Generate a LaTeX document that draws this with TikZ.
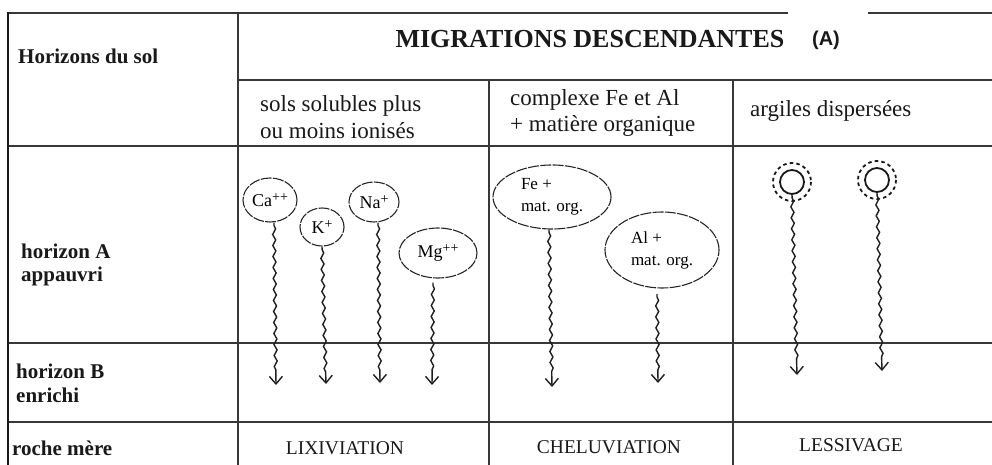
\documentclass[tikz,border=0pt]{standalone}
\usepackage{fontspec}
\setmainfont{Liberation Serif}
\newfontfamily\sansA{Liberation Sans}
\usetikzlibrary{shapes.geometric,decorations.pathmorphing,arrows.meta}
\newcommand{\chg}[1]{\raisebox{0.55ex}{\fontsize{14}{14}\selectfont #1}}
\begin{document}
\begin{tikzpicture}[x=1pt,y=-1pt,
  gridline/.style={draw=black!78, line width=1.8pt},
  border/.style={draw=black!90, line width=2.8pt},
  lbl/.style={inner sep=0pt, anchor=base west, text=black!90},
  lblc/.style={inner sep=0pt, anchor=base, text=black!90},
  hfont/.style={font=\fontsize{21}{24}\selectfont\bfseries},
  subfont/.style={font=\fontsize{23}{27}\selectfont},
  procfont/.style={font=\fontsize{19.5}{22}\selectfont},
  ion/.style={ellipse, draw=black!85, line width=1.1pt, dash pattern=on 11pt off 1.3pt,
    inner sep=0pt, font=\fontsize{18}{22}\selectfont, align=left},
  clay/.style={circle, draw=black!90, line width=1.8pt, minimum size=24pt, inner sep=0pt},
  clayring/.style={draw=black!90, line width=1.8pt, dash pattern=on 3.5pt off 3.2pt},
  wavy/.style={draw=black!88, line width=1.4pt, decorate,
    decoration={snake, segment length=11pt, amplitude=1.5pt, post length=11pt, pre length=3pt},
    -{Straight Barb[length=7.5pt,width=13pt,line width=1.4pt]}}
]
\fill[white] (0,0) rectangle (992,465);
\useasboundingbox (0,0) rectangle (992,465);

% table grid
\draw[gridline] (8,13) -- (788,13);
\draw[gridline] (868,13) -- (992,13);
\draw[gridline] (238,13) -- (238,465);
\draw[gridline] (238,80) -- (992,80);
\draw[gridline] (489,80) -- (489,465);
\draw[gridline] (733,80) -- (733,465);
\draw[gridline] (8,146) -- (992,146);
\draw[gridline] (8,343) -- (992,343);
\draw[gridline] (8,422) -- (992,422);
\draw[border] (8,11.6) -- (8,465);

% header texts
\node[lbl, hfont] (hsol) at (18,64) {Horizons du sol};
\node[lblc, font=\fontsize{26}{30}\selectfont\bfseries] (mig) at (590,48) {MIGRATIONS DESCENDANTES};
\node[lblc, font=\fontsize{20}{24}\selectfont\sansA\bfseries] (tagA) at (826,46) {(A)};

\node[lbl, subfont] (s1a) at (260,112) {sols solubles plus};
\node[lbl, subfont] (s1b) at (260,139) {ou moins ionisés};
\node[lbl, subfont] (s2a) at (510,106) {complexe Fe et Al};
\node[lbl, subfont] (s2b) at (510,132) {+ matière organique};
\node[lbl, subfont] (s3a) at (750,117) {argiles dispersées};

% row labels
\node[lbl, hfont] (hA1) at (21,258) {horizon A};
\node[lbl, hfont] (hA2) at (21,281) {appauvri};
\node[lbl, hfont] (hB1) at (16,378) {horizon B};
\node[lbl, hfont] (hB2) at (16,402) {enrichi};
\node[lbl, hfont] (hR) at (12,455) {roche mère};

% process names
\node[lblc, procfont] (lix) at (345,454) {LIXIVIATION};
\node[lblc, procfont] (chel) at (609,453) {CHELUVIATION};
\node[lblc, procfont] (less) at (851,451) {LESSIVAGE};

% ions
\node[ion, minimum width=54pt, minimum height=44pt] (ca) at (270,200) {Ca\chg{++}};
\node[ion, minimum width=44pt, minimum height=38pt] (k) at (322,227) {K\chg{+}};
\node[ion, minimum width=50pt, minimum height=40pt] (na) at (374,202) {Na\chg{+}};
\node[ion, minimum width=78pt, minimum height=50pt] (mg) at (438,253) {Mg\chg{++}};
\node[ion, minimum width=118pt, minimum height=64pt, font=\fontsize{17}{22}\selectfont] (fe) at (552,197) {Fe +\\mat. org.};
\node[ion, minimum width=114pt, minimum height=76pt, font=\fontsize{17}{22}\selectfont] (al) at (662,250) {Al +\\mat. org.};

% clays
\node[clay] (c1) at (792,182) {};
\draw[clayring] (c1.center) circle (19);
\node[clay] (c2) at (877,180) {};
\draw[clayring] (c2.center) circle (19);

% arrow end points
\coordinate (caE) at (276,385);
\coordinate (kE) at (326,384);
\coordinate (naE) at (380,383);
\coordinate (mgE) at (432,385);
\coordinate (feE) at (552,387);
\coordinate (alS) at (657,294);
\coordinate (alE) at (658,383);
\coordinate (c1E) at (797,375);
\coordinate (c2E) at (882,371);

% migrations
\draw[wavy] ([xshift=4pt]ca.south) -- (caE);
\draw[wavy] (k.south) -- (kE);
\draw[wavy] ([xshift=4pt]na.south) -- (naE);
\draw[wavy] ([xshift=-5pt,yshift=-4pt]mg.south) -- (mgE);
\draw[wavy] ([xshift=-3pt]fe.south) -- (feE);
\draw[wavy] (alS) -- (alE);
\draw[wavy] (c1.south) -- (c1E);
\draw[wavy] (c2.south) -- (c2E);
\end{tikzpicture}
\end{document}
